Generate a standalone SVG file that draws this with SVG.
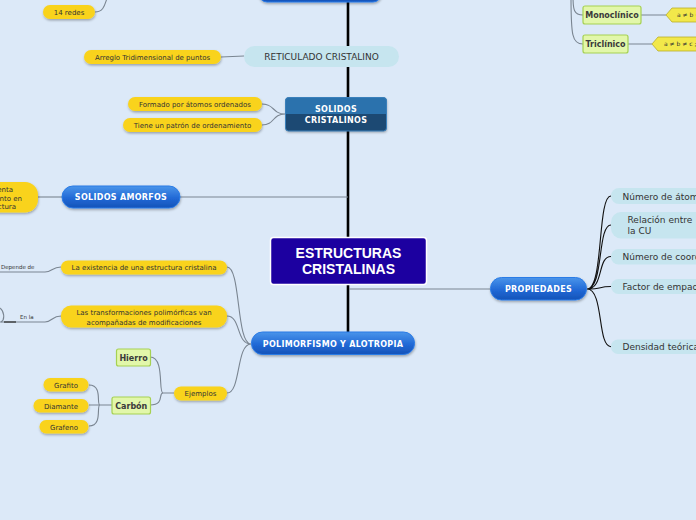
<svg xmlns="http://www.w3.org/2000/svg" width="696" height="520" viewBox="0 0 696 520">
<defs>
<linearGradient id="gBlue" x1="0" y1="0" x2="0" y2="1">
<stop offset="0" stop-color="#4a95ea"/><stop offset="0.55" stop-color="#2169d6"/><stop offset="1" stop-color="#1553b8"/>
</linearGradient>
<filter id="sh" x="-10%" y="-30%" width="120%" height="170%">
<feDropShadow dx="0.5" dy="1.5" stdDeviation="0.8" flood-color="#000" flood-opacity="0.3"/>
</filter>
<style>
.y{fill:#f9d31c;filter:url(#sh)}
.yt{font-family:"DejaVu Sans",Verdana,sans-serif;font-size:7px;fill:#333;text-anchor:middle}
.g{fill:#e2f7aa;stroke:#a6d152;stroke-width:1.2}
.gt{font-family:"DejaVu Sans",Verdana,sans-serif;font-size:8px;font-weight:bold;fill:#3a3a3a;text-anchor:middle}
.b{fill:url(#gBlue);stroke:#2a7be6;stroke-width:1;filter:url(#sh)}
.bt{font-family:"DejaVu Sans",Verdana,sans-serif;font-size:8px;font-weight:bold;fill:#fff;text-anchor:middle;letter-spacing:0.3px}
.lb{fill:#c6e5ef}
.lt{font-family:"DejaVu Sans",Verdana,sans-serif;font-size:9px;fill:#333}
.c{fill:none;stroke:#7a8591;stroke-width:1.1}
.k{fill:none;stroke:#111;stroke-width:1.1}
.hx{fill:#f2e84a;stroke:#b9ad2a;stroke-width:0.8}
.ht{font-family:"DejaVu Sans",Verdana,sans-serif;font-size:6px;fill:#333}
.st{font-family:"DejaVu Sans",Verdana,sans-serif;font-size:5.5px;fill:#333}
</style>
</defs>
<rect width="696" height="520" fill="#dce9f8"/>
<g id="connectors">
<path d="M348,-2 L348,237 M348,285 L348,333" fill="none" stroke="#000" stroke-width="2.6"/>
<path class="c" d="M180,197 L348,197"/>
<path class="c" d="M349,289 L490,289"/>
<path class="c" d="M221,57 L244,56"/>
<path class="c" d="M38,197 L62,197"/>
<path class="c" d="M95,12 C105,12 105,2 108,-4"/>
<path class="c" d="M285,114 C272,114 275,104 262,104 M285,114 C272,114 275,125 262,125"/>
<path class="k" d="M587,289 C604,289 597,196 611,196 M587,289 C604,289 597,225 611,225 M587,289 C604,289 597,256.5 611,256.5 M587,289 C604,289 597,286.5 611,286.5 M587,289 C604,289 597,346.7 611,346.7"/>
<path class="c" d="M227,267 C241,267 236,344 251,344 M227,316 C241,316 236,344 251,344 M227,393 C241,393 236,344 251,344"/>
<path class="c" d="M174,393 L163,393 C158,393 165,357 150,357 M163,393 C158,393 165,405 150,405"/>
<path class="c" d="M112,405 L100,405 C96,405 103,385 89,385 M100,405 L89,405 M100,405 C96,405 103,426 89,426"/>
<path class="c" d="M0,272 L45,272 C52,272 52,267 61,267"/>
<path class="c" d="M0,322 L45,322 C52,322 52,316 61,316"/>
<path class="c" d="M-2,307 C5,310 5,320 1,322"/>
<path d="M4,322 L16,322" stroke="#333" stroke-width="1.3"/>
<path class="c" d="M573,-4 C573,10 574,15 583,15 M571,-4 C571,35 572,44 583,44"/>
<path class="c" d="M641,15 L666,15 M628,44 L652,44"/>
</g>
<g id="top-node"><rect class="b" x="259" y="-20" width="122" height="22" rx="8"/></g>
<g id="redes14"><rect class="y" x="43" y="5" width="52" height="14" rx="7"/><text class="yt" x="69" y="14.5">14 redes</text></g>
<g id="monoclinico"><rect class="g" x="583" y="6" width="58" height="18" rx="2"/><text class="gt" x="612" y="18">Monoclínico</text></g>
<g id="mono-rule"><path class="hx" d="M666,15 L672,8 L700,8 L700,22 L672,22 Z"/><text class="ht" x="677" y="17.2">a ≠ b ≠</text></g>
<g id="triclinico"><rect class="g" x="583" y="35" width="45" height="18" rx="2"/><text class="gt" x="605.5" y="47">Triclínico</text></g>
<g id="tri-rule"><path class="hx" d="M652,44 L658,37 L700,37 L700,51 L658,51 Z"/><text class="ht" x="664" y="46.2">a ≠ b ≠ c ;</text></g>
<g id="reticulado"><rect class="lb" x="244" y="46" width="155" height="21" rx="10.5"/><text class="lt" x="321.5" y="60" text-anchor="middle">RETICULADO CRISTALINO</text></g>
<g id="arreglo"><rect class="y" x="84" y="50" width="137" height="14" rx="7"/><text class="yt" x="152.5" y="59.5">Arreglo Tridimensional de puntos</text></g>
<g id="solidos-cristalinos">
<rect x="285.5" y="97.5" width="101" height="33.5" rx="3" fill="#1b4a73" filter="url(#sh)"/>
<path d="M285.5,100.5 Q285.5,97.5 288.5,97.5 L383.5,97.5 Q386.5,97.5 386.5,100.5 L386.5,114 L285.5,114 Z" fill="#2b72ad"/>
<rect x="285.5" y="97.5" width="101" height="33.5" rx="3" fill="none" stroke="#3a80bb" stroke-width="1"/>
<text class="bt" x="336" y="111.5" letter-spacing="0.8">SOLIDOS</text>
<text class="bt" x="336" y="123" letter-spacing="0.8">CRISTALINOS</text>
</g>
<g id="formado"><rect class="y" x="128" y="97" width="134" height="14" rx="7"/><text class="yt" x="195" y="106.5">Formado por átomos ordenados</text></g>
<g id="tiene"><rect class="y" x="123" y="118" width="139" height="14" rx="7"/><text class="yt" x="192.5" y="127.5">Tiene un patrón de ordenamiento</text></g>
<g id="amorfos-desc"><rect class="y" x="-30" y="182" width="68" height="30.5" rx="13"/>
<text class="yt" x="13" y="192" style="text-anchor:end">enta</text>
<text class="yt" x="22" y="200.5" style="text-anchor:end">nto en</text>
<text class="yt" x="16" y="209" style="text-anchor:end">ctura</text></g>
<g id="solidos-amorfos"><rect class="b" x="62" y="186" width="118" height="22" rx="11"/><text class="bt" x="121" y="200">SOLIDOS AMORFOS</text></g>
<g id="centro"><rect x="270.5" y="237.5" width="156" height="47" rx="3" fill="#1c00a0" stroke="#fff" stroke-width="1.5"/>
<text x="348.5" y="258" font-family="'Liberation Sans',Arial,sans-serif" font-size="14" font-weight="bold" fill="#fff" text-anchor="middle">ESTRUCTURAS</text>
<text x="348.5" y="273.5" font-family="'Liberation Sans',Arial,sans-serif" font-size="14" font-weight="bold" fill="#fff" text-anchor="middle">CRISTALINAS</text></g>
<g id="propiedades"><rect class="b" x="490.5" y="277.5" width="96" height="22.5" rx="11"/><text class="bt" x="538.5" y="292">PROPIEDADES</text></g>
<g id="p1"><rect class="lb" x="611" y="188" width="100" height="16" rx="8"/><text class="lt" x="622.5" y="199.5">Número de átomos</text></g>
<g id="p2"><rect class="lb" x="611" y="212" width="100" height="26.5" rx="10"/><text class="lt" x="627.5" y="222.5">Relación entre</text><text class="lt" x="627.5" y="234">la CU</text></g>
<g id="p3"><rect class="lb" x="611" y="249" width="100" height="15.5" rx="7.5"/><text class="lt" x="622.5" y="260">Número de coordinación</text></g>
<g id="p4"><rect class="lb" x="611" y="279" width="100" height="15" rx="7.5"/><text class="lt" x="622.5" y="290">Factor de empaquetamiento</text></g>
<g id="p5"><rect class="lb" x="611" y="339.5" width="100" height="14.5" rx="7"/><text class="lt" x="622.5" y="350">Densidad teórica</text></g>
<g id="polimorfismo"><rect class="b" x="251.5" y="332" width="163" height="22.5" rx="11"/><text class="bt" x="333" y="347">POLIMORFISMO Y ALOTROPIA</text></g>
<g id="existencia"><rect class="y" x="61" y="260.5" width="166" height="14" rx="7"/><text class="yt" x="144" y="270">La existencia de una estructura cristalina</text></g>
<g id="depende"><text class="st" x="1" y="269">Depende de</text></g>
<g id="transformaciones"><rect class="y" x="61" y="305.5" width="166" height="22" rx="10"/><text class="yt" x="144" y="314.5">Las transformaciones polimórficas van</text><text class="yt" x="144" y="324.5">acompañadas de modificaciones</text></g>
<g id="enla"><text class="st" x="20" y="319">En la</text></g>
<g id="ejemplos"><rect class="y" x="174" y="386.5" width="53" height="14" rx="7"/><text class="yt" x="200.5" y="396">Ejemplos</text></g>
<g id="hierro"><rect class="g" x="116.5" y="349" width="34" height="17" rx="2"/><text class="gt" x="133.5" y="361">Hierro</text></g>
<g id="carbon"><rect class="g" x="112" y="397" width="38.5" height="17" rx="2"/><text class="gt" x="131.25" y="409">Carbón</text></g>
<g id="grafito"><rect class="y" x="43.5" y="378" width="45" height="13.5" rx="6.5"/><text class="yt" x="66" y="387.5">Grafito</text></g>
<g id="diamante"><rect class="y" x="33.5" y="399" width="55" height="13.5" rx="6.5"/><text class="yt" x="61" y="408.5">Diamante</text></g>
<g id="grafeno"><rect class="y" x="39.5" y="420" width="49" height="13.5" rx="6.5"/><text class="yt" x="64" y="429.5">Grafeno</text></g>
</svg>
